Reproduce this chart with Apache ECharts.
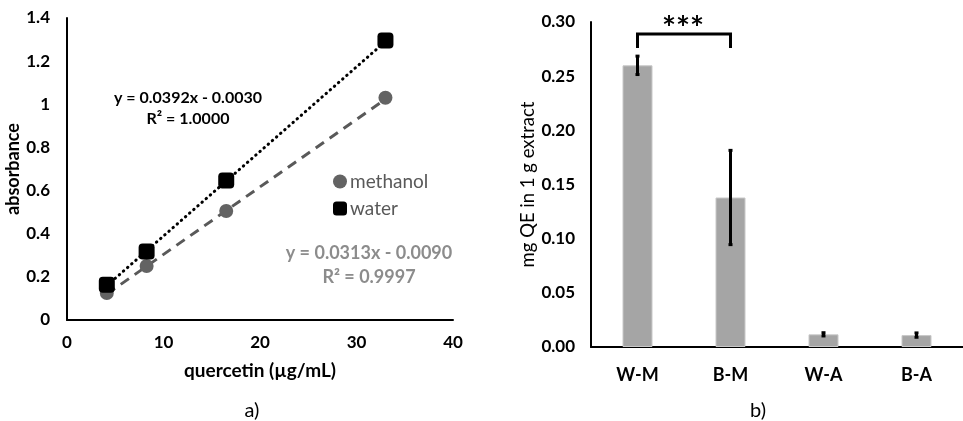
<!DOCTYPE html>
<html><head><meta charset="utf-8">
<script src="https://cdn.jsdelivr.net/npm/echarts@6/dist/echarts.min.js"></script>
<style>html,body{margin:0;padding:0;background:#fff}#c{width:963px;height:421px}</style>
</head><body><div id="c"></div>
<script>
// ---- Panel a) data ----
const concX = [4.125, 8.25, 16.5, 33];
const methanolY = [0.125, 0.25, 0.505, 1.03];
const waterY = [0.163, 0.318, 0.647, 1.296];
const methanolTrend = [[4.125, 0.120], [33, 1.024]];
const waterTrend = [[4.125, 0.159], [33, 1.291]];
const eqWater = ['y = 0.0392x - 0.0030', 'R² = 1.0000'];
const eqMethanol = ['y = 0.0313x - 0.0090', 'R² = 0.9997'];

// ---- Panel b) data ----
const categories = ['W-M', 'B-M', 'W-A', 'B-A'];
const barValues = [0.260, 0.138, 0.0117, 0.011];
const barErrors = [0.0085, 0.0435, 0.0015, 0.002];
const bracket = { from: 'W-M', to: 'B-M', top: 0.289, legBottom: 0.276, label: '***' };

const FONT = 'Lato, "Open Sans", sans-serif';
const chart = echarts.init(document.getElementById('c'));

const errData = categories.map((c, i) => [i, barValues[i] - barErrors[i], barValues[i] + barErrors[i]]);

chart.setOption({
  animation: false,
  textStyle: { fontFamily: FONT },
  grid: [
    { left: 67, top: 18, right: 510, bottom: 101 },
    { left: 591, top: 22, right: -8, bottom: 74 }
  ],
  legend: {
    data: [{ name: 'methanol', icon: 'circle' }, { name: 'water', icon: 'roundRect' }],
    orient: 'vertical', left: 328, top: 167, itemWidth: 14, itemHeight: 14, itemGap: 8,
    textStyle: { fontSize: 19, color: '#595959', fontFamily: FONT, padding: [0, 0, 0, -2] }
  },
  xAxis: [
    { gridIndex: 0, type: 'value', min: 0, max: 40, interval: 10,
      axisLine: { lineStyle: { color: '#000', width: 2 } }, axisTick: { show: false }, splitLine: { show: false },
      axisLabel: { fontSize: 17, fontWeight: 'bold', color: '#000', margin: 14, fontFamily: FONT },
      name: 'quercetin (µg/mL)', nameLocation: 'middle', nameGap: 41,
      nameTextStyle: { fontSize: 19, fontWeight: 'bold', color: '#000', fontFamily: FONT } },
    { gridIndex: 1, type: 'category', data: categories,
      axisLine: { lineStyle: { color: '#000', width: 2 } }, axisTick: { show: false },
      axisLabel: { fontSize: 18, fontWeight: 'bold', color: '#000', margin: 19, fontFamily: FONT } }
  ],
  yAxis: [
    { gridIndex: 0, type: 'value', min: 0, max: 1.4, interval: 0.2,
      axisLine: { show: true, lineStyle: { color: '#000', width: 2 } }, axisTick: { show: false }, splitLine: { show: false },
      axisLabel: { fontSize: 17, fontWeight: 'bold', color: '#000', margin: 17, fontFamily: FONT },
      name: 'absorbance', nameLocation: 'middle', nameGap: 39,
      nameTextStyle: { fontSize: 18, fontWeight: 'bold', color: '#000', fontFamily: FONT } },
    { gridIndex: 1, type: 'value', min: 0, max: 0.30, interval: 0.05,
      axisLine: { show: true, lineStyle: { color: '#000', width: 2 } }, axisTick: { show: false }, splitLine: { show: false },
      axisLabel: { fontSize: 17, fontWeight: 'bold', color: '#000', margin: 16, fontFamily: FONT,
        formatter: v => v.toFixed(2) },
      name: 'mg QE in 1 g extract', nameLocation: 'middle', nameGap: 52,
      nameTextStyle: { fontSize: 18.5, color: '#000', fontFamily: FONT } }
  ],
  series: [
    { name: 'methanol trend', type: 'line', xAxisIndex: 0, yAxisIndex: 0, data: methanolTrend,
      symbol: 'none', lineStyle: { color: '#595959', width: 3, type: [10, 7] }, z: 2 },
    { name: 'water trend', type: 'line', xAxisIndex: 0, yAxisIndex: 0, data: waterTrend,
      symbol: 'none', lineStyle: { color: '#000', width: 3, type: [0.5, 5], cap: 'round' }, z: 2 },
    { name: 'methanol', type: 'scatter', xAxisIndex: 0, yAxisIndex: 0,
      data: concX.map((x, i) => [x, methanolY[i]]), symbol: 'circle', symbolSize: 14,
      itemStyle: { color: '#636363', opacity: 1 }, z: 3 },
    { name: 'water', type: 'scatter', xAxisIndex: 0, yAxisIndex: 0,
      data: concX.map((x, i) => [x, waterY[i]]), symbol: 'roundRect', symbolSize: 16,
      itemStyle: { color: '#000', opacity: 1 }, z: 4 },
    { name: 'content', type: 'bar', xAxisIndex: 1, yAxisIndex: 1, data: barValues, barWidth: 30,
      itemStyle: { color: '#a5a5a5', borderColor: '#c8c8c8', borderWidth: 1 } },
    { name: 'error', type: 'custom', xAxisIndex: 1, yAxisIndex: 1, data: errData, z: 5,
      renderItem: (params, api) => {
        const lo = api.coord([api.value(0), api.value(1)]);
        const hi = api.coord([api.value(0), api.value(2)]);
        const st = { stroke: '#000', lineWidth: 3 };
        return { type: 'group', children: [
          { type: 'line', shape: { x1: lo[0], y1: lo[1], x2: hi[0], y2: hi[1] }, style: st },
          { type: 'line', shape: { x1: lo[0] - 2, y1: lo[1], x2: lo[0] + 2, y2: lo[1] }, style: st },
          { type: 'line', shape: { x1: hi[0] - 2, y1: hi[1], x2: hi[0] + 2, y2: hi[1] }, style: st }
        ]};
      } },
    { name: 'significance', type: 'custom', xAxisIndex: 1, yAxisIndex: 1, z: 6,
      data: [[categories.indexOf(bracket.from), categories.indexOf(bracket.to), bracket.top, bracket.legBottom]],
      renderItem: (params, api) => {
        const a = api.coord([api.value(0), api.value(2)]);
        const b = api.coord([api.value(1), api.value(2)]);
        const al = api.coord([api.value(0), api.value(3)]);
        const bl = api.coord([api.value(1), api.value(3)]);
        return { type: 'group', children: [
          { type: 'polyline', shape: { points: [[al[0], al[1]], [a[0], a[1]], [b[0], b[1]], [bl[0], bl[1]]] },
            style: { stroke: '#000', lineWidth: 3, fill: null } },
          { type: 'text', x: (a[0] + b[0]) / 2 - 1, y: a[1] - 21,
            style: { text: bracket.label, font: 'bold 33px ' + FONT, fill: '#000', align: 'center', verticalAlign: 'top' } }
        ]};
      } }
  ],
  graphic: [
    { type: 'text', x: 188, y: 98, style: { text: eqWater[0], font: 'bold 16px ' + FONT, fill: '#000', align: 'center', verticalAlign: 'middle' } },
    { type: 'text', x: 188, y: 119, style: { text: eqWater[1], font: 'bold 16px ' + FONT, fill: '#000', align: 'center', verticalAlign: 'middle' } },
    { type: 'text', x: 369, y: 253, style: { text: eqMethanol[0], font: 'bold 18px ' + FONT, fill: '#8c8c8c', align: 'center', verticalAlign: 'middle' } },
    { type: 'text', x: 369, y: 277, style: { text: eqMethanol[1], font: 'bold 18px ' + FONT, fill: '#8c8c8c', align: 'center', verticalAlign: 'middle' } },
    { type: 'text', x: 252, y: 411, style: { text: 'a)', font: '20px ' + FONT, fill: '#000', align: 'center', verticalAlign: 'middle' } },
    { type: 'text', x: 758, y: 411, style: { text: 'b)', font: '20px ' + FONT, fill: '#000', align: 'center', verticalAlign: 'middle' } }
  ]
});
</script></body></html>
